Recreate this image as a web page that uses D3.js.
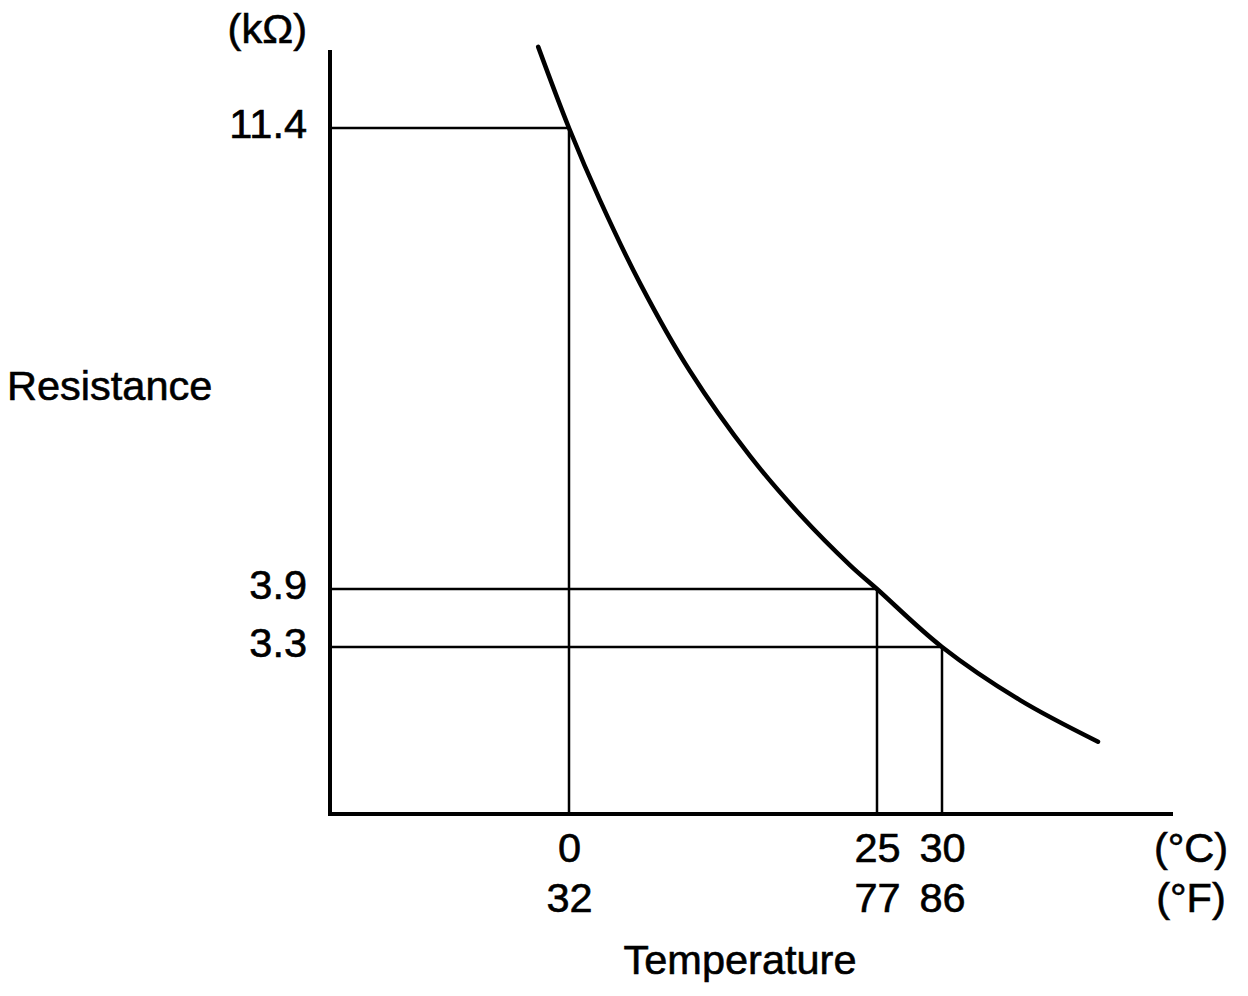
<!DOCTYPE html>
<html>
<head>
<meta charset="utf-8">
<script src="https://cdn.jsdelivr.net/npm/d3@7"></script>
<style>
  html, body { margin: 0; padding: 0; background: #fff; }
  svg { display: block; }
</style>
</head>
<body>
<div class="chart"></div>
<script>
const WIDTH = 1248;
const HEIGHT = 996;
const FONT = '"Liberation Sans", Arial, Helvetica, sans-serif';
const FONT_SIZE = 41.5;

// Temperature marks on the horizontal axis
const celsiusTicks = [0, 25, 30];
const fahrenheitTicks = [32, 77, 86];

// Resistance (kOhm) read at each of those temperatures
const resistanceTicks = [11.4, 3.9, 3.3];

// Points (temperature in C, resistance in kOhm)
const curveTemp = [-2.5, 0, 2.5, 5.8, 9.8, 14.7, 18.8, 22.8, 25, 30, 36, 42];
const curveRes = [12.72, 11.4, 10.23, 8.86, 7.45, 6.06, 5.1, 4.29, 3.9, 3.3, 2.75, 2.32];

// Axis frame in pixels
const frame = { left: 330, right: 1173, top: 50, bottom: 814 };

const svg = d3.select(".chart")
  .append("svg")
  .attr("width", WIDTH)
  .attr("height", HEIGHT);

// The figure isn't drawn to scale, so both axes are piecewise linear between the marked values
const xScale = d3.scaleLinear().domain(celsiusTicks).range([569, 877, 942]);
const yScale = d3.scaleLinear().domain(resistanceTicks).range([128, 589, 647]);

// Guide lines from each marked point to both axes
svg.append("g")
  .attr("class", "guides")
  .selectAll("path")
  .data(celsiusTicks.map((t, i) => ({ t, r: resistanceTicks[i] })))
  .join("path")
  .attr("d", d => `M${frame.left},${yScale(d.r)}H${xScale(d.t)}V${frame.bottom}`)
  .attr("fill", "none")
  .attr("stroke", "#000")
  .attr("stroke-width", 2.5);

// Axes
svg.append("path")
  .attr("d", `M${frame.left},${frame.top}V${frame.bottom}H${frame.right}`)
  .attr("fill", "none")
  .attr("stroke", "#000")
  .attr("stroke-width", 4)
  .attr("stroke-linejoin", "miter");

// Curve
const line = d3.line()
  .x(d => xScale(d.t))
  .y(d => yScale(d.r))
  .curve(d3.curveCatmullRom.alpha(0.5));

svg.append("path")
  .datum(curveTemp.map((t, i) => ({ t, r: curveRes[i] })))
  .attr("d", line)
  .attr("fill", "none")
  .attr("stroke", "#000")
  .attr("stroke-width", 4.5)
  .attr("stroke-linecap", "round");

// Text is drawn slightly heavier to match the print look
function styleText(sel) {
  sel.attr("font-family", FONT)
    .attr("font-size", FONT_SIZE)
    .attr("fill", "#000")
    .attr("stroke", "#000")
    .attr("stroke-width", 0.6);
}

// Tick labels, drawn with the axis generators
function styleAxis(g, dy) {
  g.select(".domain").remove();
  g.selectAll("text").call(styleText);
  if (dy) g.selectAll("text").attr("dy", dy);
}

svg.append("g")
  .attr("transform", `translate(${frame.left},0)`)
  .call(d3.axisLeft(yScale).tickValues(resistanceTicks).tickSize(0).tickPadding(23).tickFormat(d3.format(".1f")))
  .call(g => styleAxis(g, "0.22em"));

svg.append("g")
  .attr("transform", `translate(0,${frame.bottom})`)
  .call(d3.axisBottom(xScale).tickValues(celsiusTicks).tickSize(0).tickPadding(19).tickFormat(d3.format("d")))
  .call(g => styleAxis(g));

svg.append("g")
  .attr("transform", `translate(0,${frame.bottom + 50})`)
  .call(d3.axisBottom(xScale).tickValues(celsiusTicks).tickSize(0).tickPadding(19).tickFormat((d, i) => fahrenheitTicks[i]))
  .call(g => styleAxis(g));

// Units and titles
const labels = [
  { text: "(k\u03A9)", x: 307, y: 43, anchor: "end" },
  { text: "Resistance", x: 7, y: 400, anchor: "start" },
  { text: "(\u00B0C)", x: 1191, y: 862, anchor: "middle" },
  { text: "(\u00B0F)", x: 1191, y: 912, anchor: "middle" },
  { text: "Temperature", x: 740, y: 974, anchor: "middle" },
];

svg.append("g")
  .selectAll("text")
  .data(labels)
  .join("text")
  .attr("x", d => d.x)
  .attr("y", d => d.y)
  .attr("text-anchor", d => d.anchor)
  .call(styleText)
  .text(d => d.text);
</script>
</body>
</html>
